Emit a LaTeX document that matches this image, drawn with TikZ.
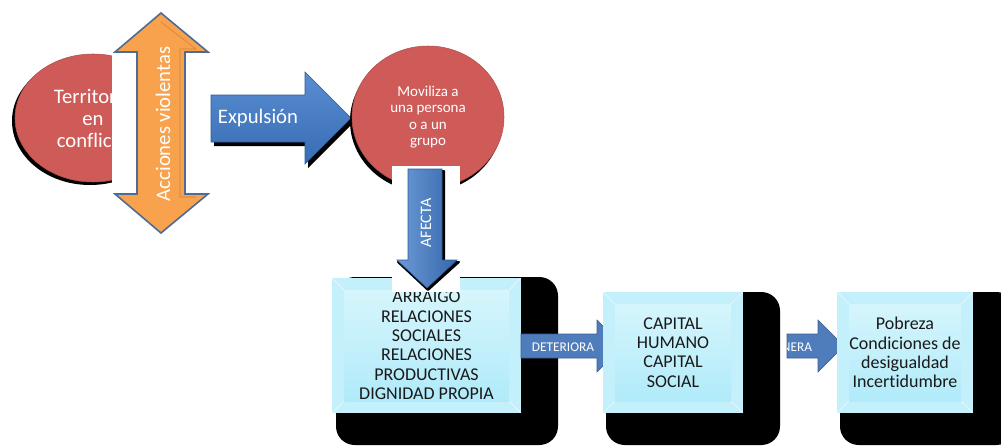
\documentclass[tikz,border=0pt]{standalone}
\usepackage{fontspec}
\setmainfont{Carlito}[Ligatures=NoCommon]
\usetikzlibrary{shapes.geometric}

\definecolor{rojo}{RGB}{207,91,89}
\definecolor{azul}{RGB}{61,121,201}
\definecolor{azulito}{RGB}{79,125,188}
\definecolor{naranja}{RGB}{249,162,78}
\definecolor{borde}{RGB}{78,107,147}
\definecolor{cielo}{RGB}{196,240,251}
\definecolor{caraalta}{RGB}{218,247,253}
\definecolor{carabaja}{RGB}{172,233,249}

\tikzset{
    sombra/.style={fill=black},
    elipse/.style={ellipse, fill=rojo, draw=rojo!85!black, text=white, align=center, inner sep=0pt},
    flecha/.style={top color=azul!85!white, bottom color=azul!90!black, draw=azul!75!black},
    flechita/.style={fill=azulito, draw=azulito!75!black},
    caja/.style={fill=cielo, align=center, text=black!90, inner sep=0pt,
        font=\fontsize{13.5}{14.5}\selectfont,
        path picture={
            \shade[top color=caraalta, bottom color=carabaja]
                ([shift={(9pt,-9pt)}]path picture bounding box.north west) rectangle
                ([shift={(-9pt,9pt)}]path picture bounding box.south east);
            \draw[white, opacity=0.7]
                (path picture bounding box.north west) -- ++(9pt,-9pt)
                (path picture bounding box.north east) -- ++(-9pt,-9pt)
                (path picture bounding box.south west) -- ++(9pt,9pt)
                (path picture bounding box.south east) -- ++(-9pt,9pt);}},
}

\begin{document}
\begin{tikzpicture}[x=0.75pt, y=-0.75pt]
    \useasboundingbox (0,0) rectangle (1001,446);
    \clip (0,0) rectangle (1001,446);

    % territorio
    \node[ellipse, sombra, minimum width=117pt, minimum height=96pt] (territorio-s) at (90,121) {};
    \node[elipse, minimum width=117pt, minimum height=96pt, font=\fontsize{15.5}{16.5}\selectfont]
        (territorio) at (93,118) {Territorio\\en\\conflicto};
    \fill[white] (112,40) rectangle (210,186);

    % acciones violentas
    \filldraw[fill=naranja, draw=borde, line width=1.2pt]
        (161,13) -- (208,52) -- (185,52) -- (185,194) -- (208,194) -- (161,233)
        -- (115,194) -- (137,194) -- (137,52) -- (115,52) -- cycle;
    \draw[naranja!80!black, line width=0.4pt]
        (161,22) -- (196,49) -- (180,49) -- (180,197) -- (196,197);
    \node[rotate=90, text=white, font=\fontsize{15.5}{16}\selectfont] (acciones) at (163,124) {Acciones violentas};

    % expulsion
    \fill[sombra] (214,99) -- (308,99) -- (308,76) -- (354,122) -- (308,168) -- (308,146) -- (214,146) -- cycle;
    \path[flecha] (211,95) -- (305,95) -- (305,72) -- (351,118) -- (305,164) -- (305,142) -- (211,142) -- cycle;
    \node[text=white, font=\fontsize{15.5}{16}\selectfont] (expulsion) at (258,118) {Expulsión};

    % moviliza
    \node[ellipse, sombra, minimum width=114pt, minimum height=106.5pt] (moviliza-s) at (426,121) {};
    \node[elipse, minimum width=114pt, minimum height=106.5pt, font=\fontsize{11.25}{12.3}\selectfont]
        (moviliza) at (428,117) {Moviliza a\\una persona\\o a un\\grupo};

    % arraigo
    \fill[sombra, rounded corners=14pt] (336,277) rectangle (558,445);
    \node[caja, minimum width=141.75pt, minimum height=101.25pt] (arraigo) at (426.5,345.5)
        {ARRAIGO\\RELACIONES\\SOCIALES\\RELACIONES\\PRODUCTIVAS\\DIGNIDAD PROPIA};
    \fill[white] (392,166) rectangle (460,292);

    % afecta
    \filldraw[sombra, draw=black, line width=1.5pt, line join=round]
        (409,171) -- (444,171) -- (444,262) -- (459,262) -- (428,290) -- (398,262) -- (409,262) -- cycle;
    \path[left color=azul!75!white, right color=azul!85!black, draw=azul!75!black]
        (408,169) -- (442,169) -- (442,260) -- (457,260) -- (427,288) -- (397,260) -- (408,260) -- cycle;
    \node[rotate=90, text=white, font=\fontsize{12}{12}\selectfont] (afecta) at (426,223) {AFECTA};

    % deteriora
    \filldraw[flechita] (521,334) -- (597,334) -- (597,320) -- (623,346) -- (597,372) -- (597,358) -- (521,358) -- cycle;
    \node[text=white, font=\fontsize{10}{10}\selectfont] (deteriora) at (563,347) {DETERIORA};

    % genera
    \filldraw[flechita] (787,334) -- (818,334) -- (818,320) -- (844,346) -- (818,372) -- (818,358) -- (787,358) -- cycle;
    \begin{scope}
        \clip (787,334) rectangle (818,358);
        \node[text=white, font=\fontsize{10}{10}\selectfont] (genera) at (789.5,347) {GENERA};
    \end{scope}

    % capital
    \fill[sombra, rounded corners=14pt] (606,292) rectangle (780,445);
    \node[caja, minimum width=105pt, minimum height=90.75pt] (capital) at (673,352.5)
        {CAPITAL\\HUMANO\\CAPITAL\\SOCIAL};

    % pobreza
    \fill[sombra, rounded corners=14pt] (840,292) rectangle (1015,445);
    \node[caja, minimum width=102pt, minimum height=90.75pt] (pobreza) at (905,352.5)
        {Pobreza\\Condiciones de\\desigualdad\\Incertidumbre};
\end{tikzpicture}
\end{document}
